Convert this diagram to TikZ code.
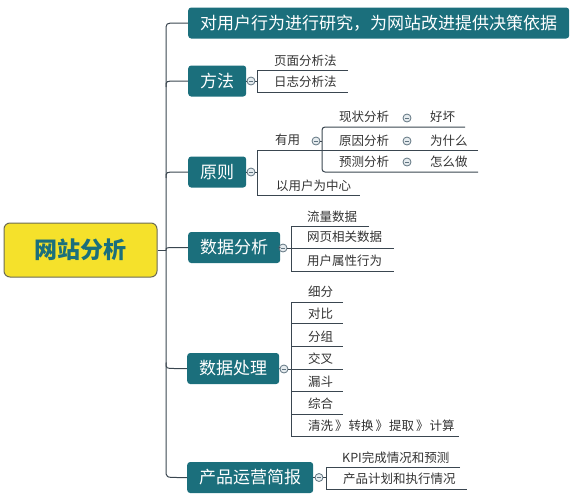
\documentclass[tikz,border=0pt]{standalone}
\usepackage{fontspec}
\setmainfont{Noto Sans CJK SC}
\definecolor{brteal}{HTML}{1B6F7C}
\definecolor{rootyel}{HTML}{F5E12B}
\definecolor{rootbd}{HTML}{6B6B55}
\definecolor{linec}{HTML}{3A4650}
\definecolor{togc}{HTML}{5F7380}
\definecolor{togfill}{HTML}{E6ECEF}
\definecolor{leaftext}{HTML}{333333}
\begin{document}
\begin{tikzpicture}[x=1pt,y=-1pt,
  rootnode/.style={fill=rootyel,draw=rootbd,line width=1pt,rounded corners=6pt,minimum width=153pt,minimum height=54pt,inner sep=0pt,font=\bfseries\fontsize{23}{26}\selectfont,text=brteal},
  branch/.style={fill=brteal,text=white,rounded corners=3pt,minimum height=31pt,inner xsep=12pt,inner ysep=0pt,anchor=west,font=\fontsize{17}{20}\selectfont},
  leaf/.style={anchor=west,inner sep=0pt,font=\fontsize{12.5}{15}\selectfont,text=leaftext},
  tog/.style={circle,draw=togc,fill=togfill,minimum size=8pt,inner sep=0pt,line width=0.8pt,
    path picture={\draw[togc,line width=0.8pt] ([xshift=-2.2pt]path picture bounding box.center) -- ([xshift=2.2pt]path picture bounding box.center);}},
  ln/.style={draw=linec,line width=1pt}]
\useasboundingbox (0,0) rectangle (579,501);

% root and branches
\node[rootnode] (root) at (80.5,250) {网站分析};
\node[branch] (b1) at (188,23) {对用户行为进行研究，为网站改进提供决策依据};
\node[branch] (b2) at (188,81) {方法};
\node[branch] (b3) at (188,172) {原则};
\node[branch] (b4) at (188,247.5) {数据分析};
\node[branch] (b5) at (187,368.5) {数据处理};
\node[branch] (b6) at (187,477.5) {产品运营简报};

% trunk
\coordinate (T) at (166,250);
\draw[ln] (root.east) -- (T);
\draw[ln] (b1.west) -- ++(-12,0) .. controls (T |- b1.west) .. ([yshift=-8pt]T |- b1.west)
  -- ([yshift=8pt]T |- b6.west) .. controls (T |- b6.west) .. ([xshift=12pt]T |- b6.west) -- (b6.west);
\draw[ln] (b2.west) -- ++(-12,0) .. controls (T |- b2.west) .. ([yshift=-6pt]T |- b2.west);
\draw[ln] (b3.west) -- ++(-12,0) .. controls (T |- b3.west) .. ([yshift=-6pt]T |- b3.west);
\draw[ln] (b4.west) -- ++(-12,0) .. controls (T |- b4.west) .. ([yshift=-3pt]T |- b4.west);
\draw[ln] (b5.west) -- ++(-12,0) .. controls (T |- b5.west) .. ([yshift=6pt]T |- b5.west);

% toggles
\node[tog] (t2) at (251,81) {};
\node[tog] (t3) at (251,172) {};
\node[tog] (t4) at (283,248) {};
\node[tog] (t5) at (284,369) {};
\node[tog] (t6) at (319,477.5) {};
\node[tog] (ty) at (316,141) {};
\node[tog] (ts1) at (407,118) {};
\node[tog] (ts2) at (407,141) {};
\node[tog] (ts3) at (407,162) {};
\draw[ln] (b2.east) -- (t2.west);
\draw[ln] (b3.east) -- (t3.west);
\draw[ln] (b4.east) -- (t4.west);
\draw[ln] (b5.east) -- (t5.west);
\draw[ln] (b6.east) -- (t6.west);

% 方法
\coordinate (k2) at (257,81);
\draw[ln] (t2.east) -- (k2);
\draw[ln] (348,70) -- (257,70) -- (257,92) -- (348,92);
\node[leaf] (m1) at (274,61) {页面分析法};
\node[leaf] (m2) at (274,82) {日志分析法};

% 原则
\coordinate (k3) at (257,172);
\draw[ln] (t3.east) -- (k3);
\draw[ln] (478,150) -- (257,150) -- (257,195) -- (360,195);
\node[leaf] (y1) at (275,140) {有用};
\node[leaf] (y2) at (276,186) {以用户为中心};
\coordinate (ky) at (322,141);
\draw[ln] (ty.east) -- (ky);
\draw[ln,rounded corners=3pt] (465,127) -- (322,127) -- (322,172) -- (478,172);
\node[leaf] (s1) at (339,117) {现状分析};
\node[leaf] (s2) at (339,141) {原因分析};
\node[leaf] (s3) at (339,162) {预测分析};
\node[leaf] (r1) at (430,117) {好坏};
\node[leaf] (r2) at (430,141) {为什么};
\node[leaf] (r3) at (430,162) {怎么做};

% 数据分析
\coordinate (k4) at (291,248);
\draw[ln] (t4.east) -- (k4);
\draw[ln] (369,226) -- (291,226) -- (291,271) -- (394,271);
\draw[ln] (291,248) -- (394,248);
\node[leaf] (a1) at (307,217) {流量数据};
\node[leaf] (a2) at (307,237) {网页相关数据};
\node[leaf] (a3) at (307,261) {用户属性行为};

% 数据处理
\coordinate (k5) at (291,369);
\draw[ln] (t5.east) -- (k5);
\draw[ln] (343,302) -- (291,302) -- (291,436) -- (459,436);
\foreach \yy in {323,346,369,391,414} \draw[ln] (291,\yy) -- (343,\yy);
\node[leaf] (p1) at (308,292) {细分};
\node[leaf] (p2) at (308,314) {对比};
\node[leaf] (p3) at (308,337) {分组};
\node[leaf] (p4) at (308,359) {交叉};
\node[leaf] (p5) at (308,382) {漏斗};
\node[leaf] (p6) at (308,404) {综合};
\node[leaf] (p7) at (308,426) {清洗\hspace{2pt}》\hspace{1pt}转换\hspace{2pt}》\hspace{1pt}提取\hspace{2pt}》\hspace{1pt}计算};

% 产品运营简报
\coordinate (k6) at (326,477.5);
\draw[ln] (t6.east) -- (k6);
\draw[ln] (460,467) -- (326,467) -- (326,489) -- (467,489);
\node[leaf] (q1) at (342,458) {KPI完成情况和预测};
\node[leaf] (q2) at (343,479) {产品计划和执行情况};
\end{tikzpicture}
\end{document}
